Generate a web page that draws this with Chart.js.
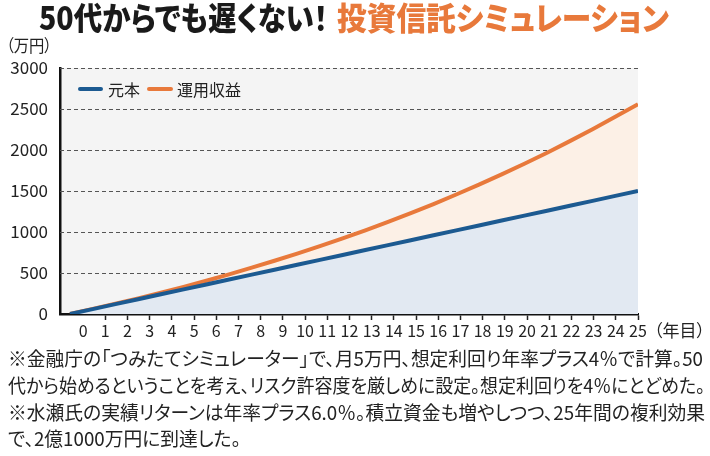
<!DOCTYPE html>
<html><head><meta charset="utf-8">
<script src="https://cdn.jsdelivr.net/npm/chart.js@4/dist/chart.umd.min.js"></script>
<style>
html,body{margin:0;padding:0;background:#fff;overflow:hidden;}
#wrap{position:relative;width:710px;height:456px;font-family:"Noto Sans CJK JP","Noto Sans",sans-serif;color:#222;}
canvas{position:absolute;left:0;top:0;}
.t{position:absolute;white-space:nowrap;transform-origin:0 50%;line-height:1;font-feature-settings:"palt";}
.leg{position:absolute;height:4px;border-radius:2px;}
</style></head>
<body><div id="wrap">
<canvas id="c" width="710" height="456"></canvas>
<div class="t" id="t1" style="left:39px;top:0px;font-size:32px;font-weight:900;color:#1a1a1a;">50代からでも遅くない！</div>
<div class="t" id="t2" style="left:337px;top:0px;font-size:32px;font-weight:900;color:#e8793b;">投資信託シミュレーション</div>
<div class="t" id="yu" style="left:6px;top:36px;font-size:17px;">（万円）</div>
<div class="t" id="xu" style="left:654px;top:321px;font-size:17px;">（年目）</div>
<div class="leg" style="left:78px;top:87px;width:25px;background:#1c5a91;"></div>
<div class="t" style="left:108px;top:81px;font-size:16px;">元本</div>
<div class="leg" style="left:147px;top:87px;width:26px;background:#e8793b;"></div>
<div class="t" style="left:177px;top:81px;font-size:16px;">運用収益</div>
<div class="t fn" id="f1" style="left:8px;top:348px;font-size:19px;">※金融庁の「つみたてシミュレーター」で、月5万円、想定利回り年率プラス4％で計算。50</div>
<div class="t fn" id="f2" style="left:8px;top:375px;font-size:19px;">代から始めるということを考え、リスク許容度を厳しめに設定。想定利回りを4％にとどめた。</div>
<div class="t fn" id="f3" style="left:8px;top:402px;font-size:19px;">※水瀬氏の実績リターンは年率プラス6.0％。積立資金も増やしつつ、25年間の複利効果</div>
<div class="t fn" id="f4" style="left:8px;top:428px;font-size:19px;">で、2億1000万円に到達した。</div>
</div>
<script>
const years = [0,1,2,3,4,5,6,7,8,9,10,11,12,13,14,15,16,17,18,19,20,21,22,23,24,25];
const principal = [0,60,120,180,240,300,360,420,480,540,600,660,720,780,840,900,960,1020,1080,1140,1200,1260,1320,1380,1440,1500];
const returns = [0,61,125,191,260,331,406,484,565,649,736,827,922,1021,1123,1230,1341,1457,1577,1702,1832,1967,2108,2254,2405,2558];
const yTicks = [0,500,1000,1500,2000,2500,3000];
const xTickLabels = years;

function fit(id, w){
  const el=document.getElementById(id);
  const nw=el.getBoundingClientRect().width;
  el.style.transform='scaleX('+(w/nw)+')';
  return w/nw;
}
fit('t1',289); fit('t2',332); fit('yu',46); fit('xu',51);
const s=fit('f1',695); fit('f2',697); fit('f3',697);
document.getElementById('f4').style.transform='scaleX('+s+')';

const bgPlugin={id:'bg',
  beforeDraw(ch){const a=ch.chartArea,c=ch.ctx;c.save();c.fillStyle='#f4f4f4';c.fillRect(a.left,a.top,a.right-a.left,a.bottom-a.top);c.restore();},
  beforeDatasetsDraw(ch){const a=ch.chartArea,c=ch.ctx,ys=ch.scales.y;c.save();c.strokeStyle='#555';c.lineWidth=1;c.setLineDash([4,3]);
    yTicks.forEach(v=>{if(v===0)return;const py=Math.round(ys.getPixelForValue(v))+0.5;c.beginPath();c.moveTo(a.left,py);c.lineTo(a.right,py);c.stroke();});
    c.restore();}
};

new Chart(document.getElementById('c'),{
  type:'line',
  data:{datasets:[
    {label:'元本',data:years.map((x,i)=>({x,y:principal[i]})),xAxisID:'xd',borderColor:'#1c5a91',borderWidth:4,pointRadius:0,fill:'origin',backgroundColor:'#e2e9f2',tension:0},
    {label:'運用収益',data:years.map((x,i)=>({x,y:returns[i]})),xAxisID:'xd',borderColor:'#e8793b',borderWidth:4,pointRadius:0,fill:0,backgroundColor:'#fcf0e6',tension:0}
  ]},
  options:{
    responsive:false,animation:false,
    layout:{padding:{top:68,right:72,left:0,bottom:0}},
    plugins:{legend:{display:false},tooltip:{enabled:false}},
    scales:{
      xd:{type:'linear',display:false,min:-0.44,max:25},
      x:{type:'linear',position:'bottom',min:-1.04,max:25,
        afterBuildTicks(sc){sc.ticks=xTickLabels.map(v=>({value:v}));},
        afterFit(sc){sc.height=456-314;},
        grid:{drawOnChartArea:false,drawTicks:true,tickLength:6,tickWidth:1.5,tickColor:(ctx)=>ctx.tick&&ctx.tick.value===0?'rgba(0,0,0,0)':'#222'},
        border:{display:true,color:'#111',width:2.5},
        ticks:{autoSkip:false,maxRotation:0,padding:1,color:'#222',font:{family:'"Noto Sans CJK JP","Noto Sans",sans-serif',size:16},callback:(v)=>String(v)}
      },
      y:{min:0,max:3000,
        afterBuildTicks(sc){sc.ticks=yTicks.map(v=>({value:v}));},
        afterFit(sc){sc.width=60;},
        grid:{display:true,drawOnChartArea:false,drawTicks:false},
        border:{display:true,color:'#111',width:2.5},
        ticks:{padding:12,color:'#222',font:{family:'"Noto Sans CJK JP","Noto Sans",sans-serif',size:17},callback:(v)=>String(v)}
      }
    }
  },
  plugins:[bgPlugin]
});
</script>
</body></html>
